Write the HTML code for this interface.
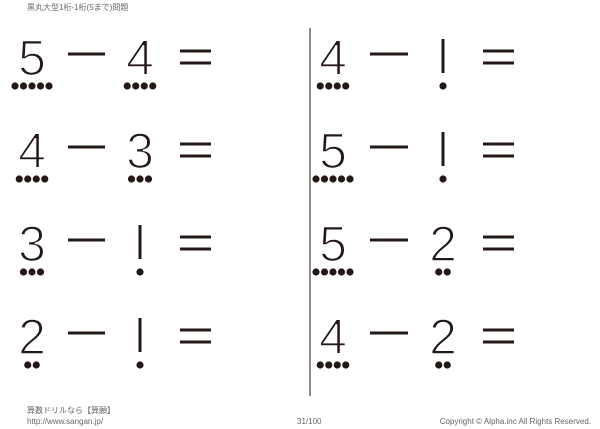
<!DOCTYPE html>
<html><head><meta charset="utf-8"><style>
html,body{margin:0;padding:0;background:#fff;width:600px;height:429px;overflow:hidden}
svg{display:block}
.d{font-family:"Liberation Sans",sans-serif;font-size:50px;fill:#231815;stroke:#fff;stroke-width:1.6px;text-anchor:middle}
.s{font-family:"Liberation Sans","Noto Sans CJK JP",sans-serif;font-size:8px;fill:#666}
</style></head><body>
<svg width="600" height="429" viewBox="0 0 600 429" xmlns="http://www.w3.org/2000/svg">
<text class="s" x="27" y="10">黒丸大型1桁-1桁(5まで)問題</text>
<line x1="310" y1="28" x2="310" y2="396" stroke="#231815" stroke-width="1"/>
<g stroke="#231815" stroke-width="3">
<line x1="68" y1="54" x2="105" y2="54"/><line x1="180" y1="51" x2="211" y2="51"/><line x1="180" y1="63" x2="211" y2="63"/>
<line x1="68" y1="147" x2="105" y2="147"/><line x1="180" y1="144" x2="211" y2="144"/><line x1="180" y1="156" x2="211" y2="156"/>
<line x1="68" y1="240" x2="105" y2="240"/><line x1="180" y1="237" x2="211" y2="237"/><line x1="180" y1="249" x2="211" y2="249"/>
<line x1="68" y1="333" x2="105" y2="333"/><line x1="180" y1="330" x2="211" y2="330"/><line x1="180" y1="342" x2="211" y2="342"/>
<line x1="370" y1="54" x2="408" y2="54"/><line x1="483" y1="51" x2="514" y2="51"/><line x1="483" y1="63" x2="514" y2="63"/>
<line x1="370" y1="147" x2="408" y2="147"/><line x1="483" y1="144" x2="514" y2="144"/><line x1="483" y1="156" x2="514" y2="156"/>
<line x1="370" y1="240" x2="408" y2="240"/><line x1="483" y1="237" x2="514" y2="237"/><line x1="483" y1="249" x2="514" y2="249"/>
<line x1="370" y1="333" x2="408" y2="333"/><line x1="483" y1="330" x2="514" y2="330"/><line x1="483" y1="342" x2="514" y2="342"/>
<line x1="140" y1="225" x2="140" y2="259"/>
<line x1="140" y1="318" x2="140" y2="352"/>
<line x1="443" y1="39" x2="443" y2="73"/>
<line x1="443" y1="132" x2="443" y2="166"/>
</g>
<g>
<text class="d" x="32" y="75">5</text><text class="d" x="140" y="75">4</text>
<text class="d" x="32" y="168">4</text><text class="d" x="140" y="168">3</text>
<text class="d" x="32" y="261">3</text>
<text class="d" x="32" y="354">2</text>
<text class="d" x="333" y="75">4</text>
<text class="d" x="333" y="168">5</text>
<text class="d" x="333" y="261">5</text><text class="d" x="443" y="261">2</text>
<text class="d" x="333" y="354">4</text><text class="d" x="443" y="354">2</text>
</g>
<g fill="#231815">
<circle cx="15" cy="86" r="3.6"/><circle cx="23.5" cy="86" r="3.6"/><circle cx="32" cy="86" r="3.6"/><circle cx="40.5" cy="86" r="3.6"/><circle cx="49" cy="86" r="3.6"/>
<circle cx="127.25" cy="86" r="3.6"/><circle cx="135.75" cy="86" r="3.6"/><circle cx="144.25" cy="86" r="3.6"/><circle cx="152.75" cy="86" r="3.6"/>
<circle cx="19.25" cy="179" r="3.6"/><circle cx="27.75" cy="179" r="3.6"/><circle cx="36.25" cy="179" r="3.6"/><circle cx="44.75" cy="179" r="3.6"/>
<circle cx="131.5" cy="179" r="3.6"/><circle cx="140" cy="179" r="3.6"/><circle cx="148.5" cy="179" r="3.6"/>
<circle cx="23.5" cy="272" r="3.6"/><circle cx="32" cy="272" r="3.6"/><circle cx="40.5" cy="272" r="3.6"/>
<circle cx="140" cy="272" r="3.6"/>
<circle cx="27.75" cy="365" r="3.6"/><circle cx="36.25" cy="365" r="3.6"/>
<circle cx="140" cy="365" r="3.6"/>
<circle cx="320.25" cy="86" r="3.6"/><circle cx="328.75" cy="86" r="3.6"/><circle cx="337.25" cy="86" r="3.6"/><circle cx="345.75" cy="86" r="3.6"/>
<circle cx="443" cy="86" r="3.6"/>
<circle cx="316" cy="179" r="3.6"/><circle cx="324.5" cy="179" r="3.6"/><circle cx="333" cy="179" r="3.6"/><circle cx="341.5" cy="179" r="3.6"/><circle cx="350" cy="179" r="3.6"/>
<circle cx="443" cy="179" r="3.6"/>
<circle cx="316" cy="272" r="3.6"/><circle cx="324.5" cy="272" r="3.6"/><circle cx="333" cy="272" r="3.6"/><circle cx="341.5" cy="272" r="3.6"/><circle cx="350" cy="272" r="3.6"/>
<circle cx="438.75" cy="272" r="3.6"/><circle cx="447.25" cy="272" r="3.6"/>
<circle cx="320.25" cy="365" r="3.6"/><circle cx="328.75" cy="365" r="3.6"/><circle cx="337.25" cy="365" r="3.6"/><circle cx="345.75" cy="365" r="3.6"/>
<circle cx="438.75" cy="365" r="3.6"/><circle cx="447.25" cy="365" r="3.6"/>
</g>
<text class="s" x="27" y="413">算数ドリルなら【算願】</text>
<text class="s" x="27" y="424">http://www.sangan.jp/</text>
<text class="s" x="297" y="424">31/100</text>
<text class="s" x="591" y="424" text-anchor="end">Copyright © Alpha.inc All Rights Reserved.</text>
</svg>
</body></html>
